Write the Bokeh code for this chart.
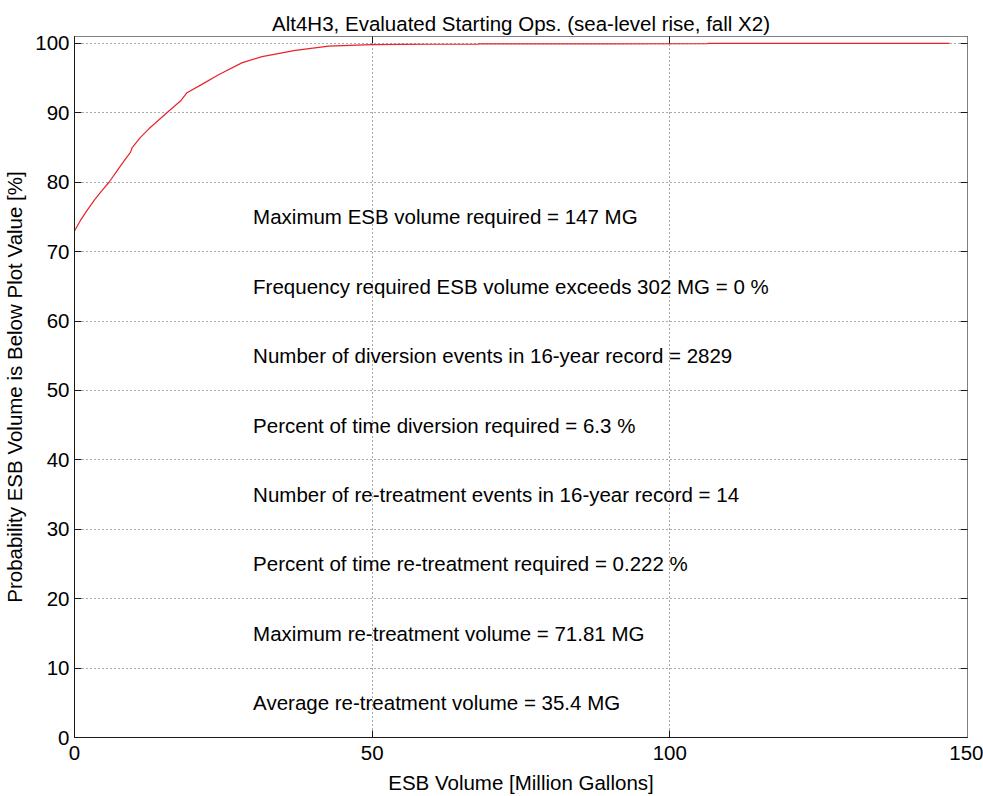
from bokeh.plotting import figure
from bokeh.models import Range1d, LinearAxis, FixedTicker, ColumnDataSource
from bokeh.core.properties import value
from bokeh.embed import file_html
from bokeh.resources import INLINE

# ---- data ----
esb_volume = [0, 1, 2, 3.3, 4.5, 5.8, 7.2, 8.6, 9.4, 9.7, 11, 12.5, 14.2, 15.9,
              17.8, 18.9, 21.4, 24.2, 28.1, 31.5, 37.1, 42.7, 49.9, 55, 60,
              67.8, 67.8, 90, 106.4, 106.4, 147]
probability = [73.0, 74.5, 75.8, 77.4, 78.7, 80.0, 81.7, 83.4, 84.3, 85.0, 86.4,
               87.7, 89.0, 90.3, 91.7, 92.9, 94.1, 95.5, 97.2, 98.1, 99.0, 99.6,
               99.82, 99.86, 99.88, 99.9, 99.94, 99.95, 99.96, 100.0, 100.0]

note_x = [30, 30, 30, 30, 30, 30, 30, 30]
note_y = [75, 65, 55, 45, 35, 25, 15, 5]
note_text = [
    "Maximum ESB volume required = 147 MG",
    "Frequency required ESB volume exceeds 302 MG = 0 %",
    "Number of diversion events in 16-year record = 2829",
    "Percent of time diversion required = 6.3 %",
    "Number of re-treatment events in 16-year record = 14",
    "Percent of time re-treatment required = 0.222 %",
    "Maximum re-treatment volume = 71.81 MG",
    "Average re-treatment volume = 35.4 MG",
]
x_ticks = [0, 50, 100, 150]
y_ticks = [0, 10, 20, 30, 40, 50, 60, 70, 80, 90, 100]

title_text = "Alt4H3, Evaluated Starting Ops. (sea-level rise, fall X2)"
x_label = "ESB Volume [Million Gallons]"
y_label = "Probability ESB Volume is Below Plot Value [%]"

FONT = "Liberation Sans"
FS = "20.5px"

p = figure(width=983, height=796, output_backend="svg", toolbar_location=None,
           x_range=Range1d(0, 150), y_range=Range1d(0, 101),
           min_border_left=72, min_border_right=16, min_border_top=36,
           min_border_bottom=55, title=title_text)

p.title.text_font = FONT
p.title.text_font_size = FS
p.title.text_font_style = "normal"
p.title.align = "center"
p.title.vertical_align = "top"
p.title.standoff = 0
p.title.text_line_height = 0.6
p.title.text_color = "#000000"

p.outline_line_color = "#808080"
p.background_fill_color = "white"
p.border_fill_color = "white"

for ax, lab, ticks in ((p.xaxis[0], x_label, x_ticks), (p.yaxis[0], y_label, y_ticks)):
    ax.ticker = FixedTicker(ticks=ticks)
    ax.axis_label = lab
    ax.axis_label_text_font = FONT
    ax.axis_label_text_font_size = FS
    ax.axis_label_text_font_style = "normal"
    ax.major_label_text_font = FONT
    ax.major_label_text_font_size = FS
    ax.major_label_text_color = "#000000"
    ax.axis_label_text_color = "#000000"
    ax.major_tick_in = 7
    ax.major_tick_out = 0
    ax.minor_tick_line_color = None
    ax.axis_line_color = "#1a1a1a"
    ax.major_tick_line_color = "#1a1a1a"
    ax.major_label_standoff = 5
    ax.axis_label_standoff = 6

p.xaxis[0].major_label_standoff = 8
p.xaxis[0].axis_label_standoff = 8

top = LinearAxis(ticker=FixedTicker(ticks=x_ticks), major_tick_in=7, major_tick_out=0,
                 minor_tick_line_color=None, major_label_text_font_size="0px",
                 axis_line_color="#808080", major_tick_line_color="#1a1a1a",
                 major_label_standoff=0)
right = LinearAxis(ticker=FixedTicker(ticks=y_ticks), major_tick_in=7, major_tick_out=0,
                   minor_tick_line_color=None, major_label_text_font_size="0px",
                   axis_line_color="#808080", major_tick_line_color="#1a1a1a",
                   major_label_standoff=0)
p.add_layout(top, "above")
p.add_layout(right, "right")

for g in (p.xgrid[0], p.ygrid[0]):
    g.grid_line_color = "#555555"
    g.grid_line_dash = "1 3"
    g.grid_line_width = 1
p.xgrid[0].ticker = FixedTicker(ticks=x_ticks)
p.ygrid[0].ticker = FixedTicker(ticks=y_ticks)

src = ColumnDataSource(dict(x=esb_volume, y=probability))
p.line("x", "y", source=src, line_color="#e8232a", line_width=1.2)

nsrc = ColumnDataSource(dict(x=note_x, y=note_y, t=note_text))
p.text("x", "y", text="t", source=nsrc, text_font=value(FONT), text_font_size=FS,
       text_align="left", text_baseline="middle", text_color="#000000")

open("out.html", "w").write(file_html(p, INLINE))
